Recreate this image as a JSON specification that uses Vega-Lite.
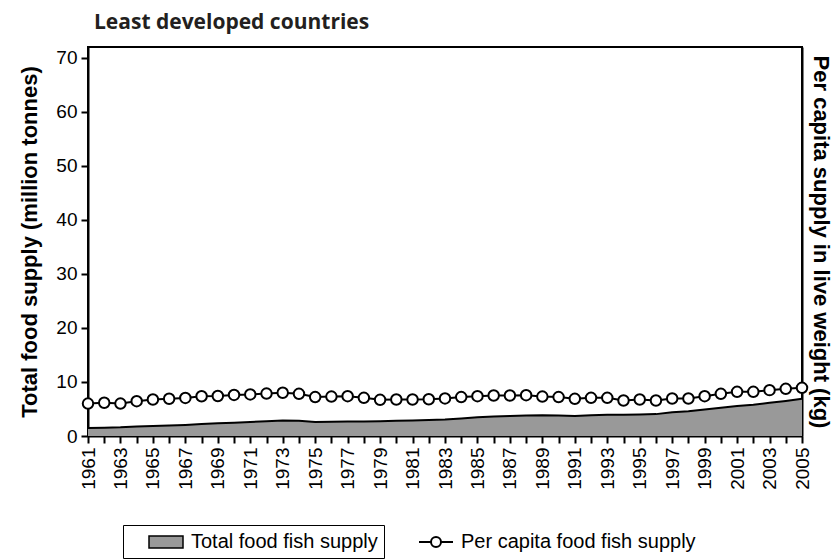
{
  "$schema": "https://vega.github.io/schema/vega-lite/v6.json",
  "autosize": {"type": "none"},
  "width": 714,
  "height": 389,
  "padding": {"left": 88, "top": 47, "right": 30, "bottom": 124},
  "background": "white",
  "title": {
    "text": "Least developed countries",
    "anchor": "start",
    "frame": "group",
    "font": "Open Sans",
    "fontSize": 21,
    "fontWeight": "bold",
    "color": "#231f20",
    "baseline": "alphabetic",
    "offset": 19,
    "dx": 6,
    "dy": 22
  },
  "config": {
    "view": {"stroke": "black", "strokeWidth": 2},
    "axis": {
      "labelFont": "Liberation Sans",
      "titleFont": "Liberation Sans",
      "labelColor": "black",
      "titleColor": "black",
      "domainColor": "black",
      "tickColor": "black",
      "grid": false,
      "domainWidth": 2,
      "tickWidth": 2,
      "tickSize": 7,
      "labelFontSize": 19,
      "titleFontSize": 22,
      "titleFontWeight": "bold"
    }
  },
  "data": {
    "values": [
      {"year": 1961, "total": 1.5, "percap": 6.0},
      {"year": 1962, "total": 1.55, "percap": 6.15},
      {"year": 1963, "total": 1.6, "percap": 6.0},
      {"year": 1964, "total": 1.75, "percap": 6.45},
      {"year": 1965, "total": 1.85, "percap": 6.75},
      {"year": 1966, "total": 1.95, "percap": 6.9},
      {"year": 1967, "total": 2.05, "percap": 7.05},
      {"year": 1968, "total": 2.2, "percap": 7.35},
      {"year": 1969, "total": 2.35, "percap": 7.4},
      {"year": 1970, "total": 2.45, "percap": 7.6},
      {"year": 1971, "total": 2.6, "percap": 7.7},
      {"year": 1972, "total": 2.75, "percap": 7.85},
      {"year": 1973, "total": 2.85, "percap": 8.0},
      {"year": 1974, "total": 2.8, "percap": 7.8},
      {"year": 1975, "total": 2.6, "percap": 7.2},
      {"year": 1976, "total": 2.65, "percap": 7.3},
      {"year": 1977, "total": 2.7, "percap": 7.37},
      {"year": 1978, "total": 2.7, "percap": 7.07},
      {"year": 1979, "total": 2.75, "percap": 6.7},
      {"year": 1980, "total": 2.8, "percap": 6.76},
      {"year": 1981, "total": 2.85, "percap": 6.76},
      {"year": 1982, "total": 2.95, "percap": 6.8},
      {"year": 1983, "total": 3.05, "percap": 6.95},
      {"year": 1984, "total": 3.25, "percap": 7.2},
      {"year": 1985, "total": 3.45, "percap": 7.37},
      {"year": 1986, "total": 3.6, "percap": 7.5},
      {"year": 1987, "total": 3.7, "percap": 7.5},
      {"year": 1988, "total": 3.8, "percap": 7.56},
      {"year": 1989, "total": 3.85, "percap": 7.3},
      {"year": 1990, "total": 3.8, "percap": 7.2},
      {"year": 1991, "total": 3.7, "percap": 6.88},
      {"year": 1992, "total": 3.85, "percap": 7.07},
      {"year": 1993, "total": 3.95, "percap": 7.07},
      {"year": 1994, "total": 3.95, "percap": 6.57},
      {"year": 1995, "total": 4.0, "percap": 6.76},
      {"year": 1996, "total": 4.05, "percap": 6.57},
      {"year": 1997, "total": 4.4, "percap": 6.94},
      {"year": 1998, "total": 4.6, "percap": 6.94},
      {"year": 1999, "total": 4.9, "percap": 7.37},
      {"year": 2000, "total": 5.25, "percap": 7.81},
      {"year": 2001, "total": 5.55, "percap": 8.18},
      {"year": 2002, "total": 5.8, "percap": 8.18},
      {"year": 2003, "total": 6.15, "percap": 8.49},
      {"year": 2004, "total": 6.5, "percap": 8.73},
      {"year": 2005, "total": 6.9, "percap": 8.92}
    ]
  },
  "encoding": {
    "x": {
      "field": "year",
      "type": "quantitative",
      "scale": {"domain": [1961, 2005], "nice": false, "zero": false},
      "axis": {
        "title": null,
        "values": [1961,1962,1963,1964,1965,1966,1967,1968,1969,1970,1971,1972,1973,1974,1975,1976,1977,1978,1979,1980,1981,1982,1983,1984,1985,1986,1987,1988,1989,1990,1991,1992,1993,1994,1995,1996,1997,1998,1999,2000,2001,2002,2003,2004,2005],
        "format": "d",
        "labelExpr": "datum.value % 2 == 1 ? datum.label : ''",
        "labelAngle": 270,
        "labelAlign": "right",
        "labelBaseline": "middle",
        "labelPadding": 4,
        "labelOverlap": false,
        "labelFlush": false
      }
    }
  },
  "layer": [
    {
      "layer": [
        {
          "mark": {"type": "area", "opacity": 1},
          "encoding": {
            "y": {
              "field": "total",
              "type": "quantitative",
              "scale": {"domain": [0, 72], "nice": false},
              "axis": {
                "title": "Total food supply (million tonnes)",
                "values": [0, 10, 20, 30, 40, 50, 60, 70],
                "labelPadding": 4,
                "titlePadding": 14
              }
            },
            "fill": {
              "datum": "Total food fish supply",
              "scale": {"domain": ["Total food fish supply"], "range": ["#999999"]},
              "legend": {
                "orient": "none",
                "legendX": 35,
                "legendY": 478,
                "direction": "horizontal",
                "title": null,
                "strokeColor": "black",
                "padding": 6,
                "symbolOffset": 26,
                "symbolSize": 400,
                "symbolType": "M-1.7,-0.6L1.7,-0.6L1.7,0.6L-1.7,0.6Z",
                "symbolStrokeColor": "black",
                "symbolStrokeWidth": 1.5,
                "symbolOpacity": 1,
                "labelFont": "Liberation Sans",
                "labelFontSize": 20,
                "labelColor": "black",
                "labelLimit": 0,
                "labelOffset": 14,
                "labelExpr": "pad(datum.label, 86, '\u00a0')"
              }
            }
          }
        },
        {
          "mark": {"type": "line", "color": "black", "strokeWidth": 2},
          "encoding": {"y": {"field": "total", "type": "quantitative"}}
        }
      ]
    },
    {
      "layer": [
        {
          "mark": {"type": "line", "strokeWidth": 2},
          "encoding": {
            "y": {
              "field": "percap",
              "type": "quantitative",
              "scale": {"domain": [0, 72], "nice": false},
              "axis": {
                "orient": "right",
                "title": "Per capita supply in live weight (kg)",
                "labels": false,
                "ticks": false,
                "titlePadding": 6
              }
            },
            "stroke": {
              "datum": "Per capita food fish supply",
              "scale": {"domain": ["Per capita food fish supply"], "range": ["#000000"]},
              "legend": {
                "orient": "none",
                "legendX": 324,
                "legendY": 478,
                "direction": "horizontal",
                "title": null,
                "padding": 6,
                "symbolOffset": 7,
                "symbolSize": 400,
                "symbolType": "M-1.7,0L-0.5,0M0.5,0L1.7,0M0.5,0A0.5,0.5 0 1 1 -0.5,0A0.5,0.5 0 1 1 0.5,0Z",
                "symbolStrokeColor": "black",
                "symbolFillColor": "white",
                "symbolStrokeWidth": 2,
                "symbolOpacity": 1,
                "labelFont": "Liberation Sans",
                "labelFontSize": 20,
                "labelColor": "black",
                "labelLimit": 0,
                "labelOffset": 14
              }
            }
          }
        },
        {
          "mark": {"type": "point", "filled": true, "fill": "white", "stroke": "black", "strokeWidth": 2, "size": 110, "opacity": 1},
          "encoding": {"y": {"field": "percap", "type": "quantitative"}}
        }
      ]
    }
  ],
  "resolve": {"scale": {"y": "independent"}}
}
